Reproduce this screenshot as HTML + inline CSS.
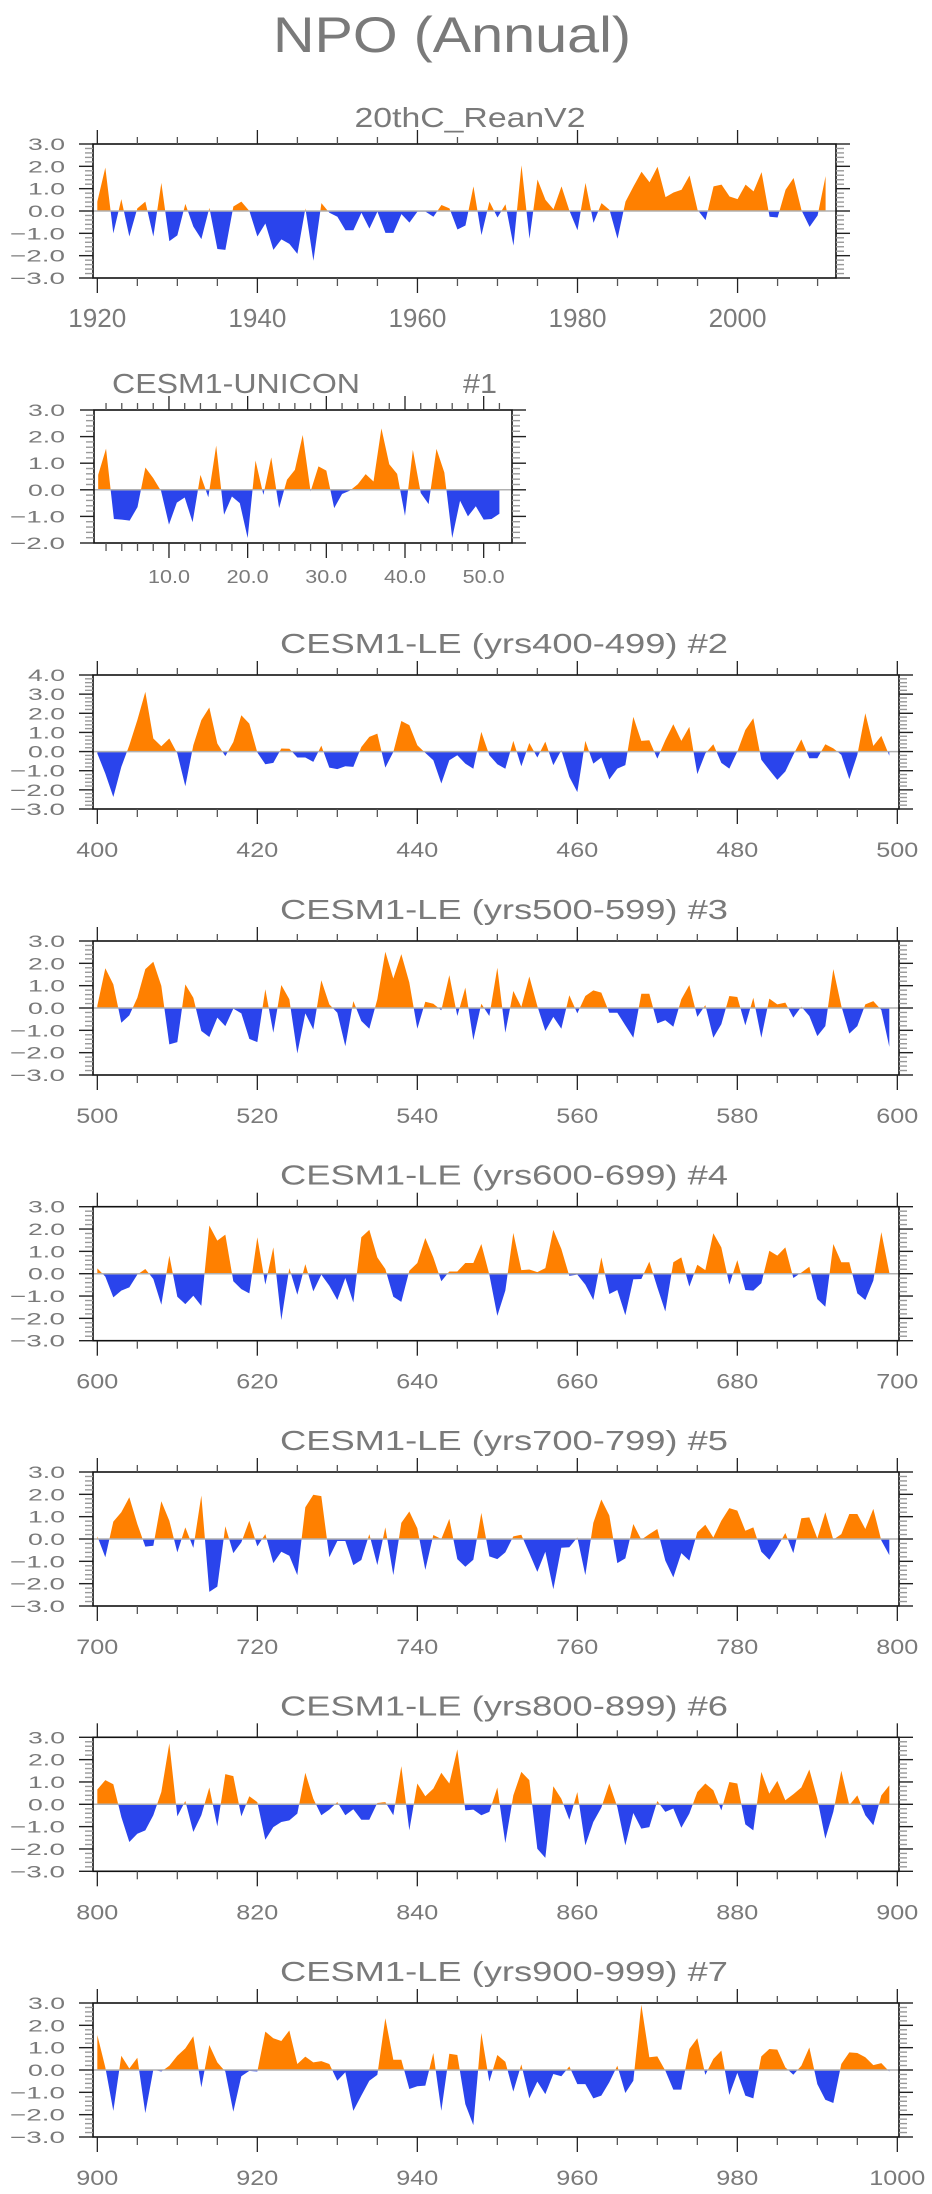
<!DOCTYPE html>
<html><head><meta charset="utf-8"><title>NPO (Annual)</title>
<style>
html,body{margin:0;padding:0;background:#fff;}
svg{display:block;}
text{font-family:"Liberation Sans",sans-serif;fill:#7a7a7a;}
</style></head>
<body>
<svg id="chart" width="932" height="2194" viewBox="0 0 932 2194" xmlns="http://www.w3.org/2000/svg">
<rect x="0" y="0" width="932" height="2194" fill="#fff"/>
<text x="452" y="52" font-size="50" text-anchor="middle" textLength="358" lengthAdjust="spacingAndGlyphs">NPO (Annual)</text>
</svg>
<script>
// ---------- data ----------
const reanStart = 1920;
const reanValues = [0.42,1.94,-1.0,0.53,-1.14,0.12,0.42,-1.14,1.26,-1.35,-1.09,0.32,-0.7,-1.26,0.14,-1.7,-1.74,0.2,0.42,0.0,-1.14,-0.56,-1.74,-1.27,-1.47,-1.92,0.12,-2.23,0.35,-0.08,-0.26,-0.86,-0.86,-0.08,-0.79,-0.03,-0.98,-0.98,-0.14,-0.52,-0.03,-0.03,-0.26,0.27,0.12,-0.83,-0.65,1.1,-1.08,0.42,-0.29,0.3,-1.55,2.05,-1.24,1.41,0.5,0.08,1.1,0.0,-0.86,1.26,-0.53,0.35,0.05,-1.24,0.42,1.1,1.76,1.29,1.98,0.62,0.83,0.95,1.59,0.05,-0.41,1.1,1.18,0.65,0.53,1.18,0.88,1.74,-0.26,-0.29,0.95,1.48,0.02,-0.71,-0.2,1.56];
const uniconStart = 1;
const uniconValues = [0.56,1.55,-1.1,-1.12,-1.16,-0.65,0.84,0.44,-0.05,-1.31,-0.48,-0.29,-1.22,0.56,-0.28,1.66,-0.94,-0.25,-0.5,-1.81,1.1,-0.19,1.22,-0.69,0.38,0.75,2.06,-0.06,0.88,0.72,-0.69,-0.16,-0.03,0.21,0.59,0.31,2.31,0.96,0.6,-0.98,1.5,-0.12,-0.54,1.54,0.65,-1.81,-0.41,-1.0,-0.62,-1.12,-1.1,-0.9];
const le2Values = [-0.1,-1.15,-2.37,-0.8,0.33,1.64,3.12,0.68,0.28,0.68,-0.1,-1.81,0.33,1.64,2.3,0.42,-0.24,0.5,1.9,1.46,-0.05,-0.66,-0.59,0.16,0.15,-0.31,-0.31,-0.54,0.31,-0.84,-0.92,-0.77,-0.8,0.24,0.77,0.94,-0.84,-0.02,1.6,1.38,0.33,-0.07,-0.45,-1.67,-0.45,-0.19,-0.63,-0.9,1.03,-0.19,-0.66,-0.9,0.56,-0.77,0.45,-0.31,0.52,-0.71,0.07,-1.32,-2.12,0.56,-0.63,-0.31,-1.46,-0.89,-0.71,1.81,0.56,0.59,-0.37,0.59,1.43,0.56,1.29,-1.18,-0.1,0.38,-0.59,-0.89,0.0,1.13,1.74,-0.43,-0.96,-1.48,-1.04,-0.17,0.64,-0.35,-0.35,0.38,0.17,-0.17,-1.44,-0.17,2.0,0.3,0.82,-0.22];
const le3Values = [0.1,1.78,1.06,-0.66,-0.33,0.46,1.74,2.07,0.99,-1.63,-1.53,1.06,0.46,-1.03,-1.3,-0.43,-0.81,-0.03,-0.24,-1.38,-1.53,0.84,-1.11,1.03,0.39,-2.04,-0.24,-0.96,1.24,0.16,-0.21,-1.71,0.31,-0.58,-0.93,0.39,2.52,1.32,2.41,1.14,-0.93,0.28,0.19,-0.1,1.47,-0.36,0.91,-1.44,0.19,-0.36,1.8,-1.11,0.76,0.05,1.41,0.09,-1.03,-0.4,-0.93,0.57,-0.24,0.54,0.79,0.69,-0.21,-0.21,-0.78,-1.33,0.64,0.64,-0.69,-0.55,-0.84,0.39,1.03,-0.4,0.13,-1.33,-0.73,0.54,0.49,-0.78,0.46,-1.33,0.42,0.16,0.24,-0.43,0.06,-0.36,-1.26,-0.81,1.74,0.09,-1.15,-0.81,0.16,0.31,-0.09,-1.74];
const le4Values = [0.24,-0.13,-1.06,-0.76,-0.61,-0.04,0.21,-0.24,-1.39,0.81,-1.03,-1.36,-0.99,-1.44,2.16,1.48,1.75,-0.34,-0.69,-0.88,1.63,-0.49,1.18,-2.08,0.25,-0.94,0.43,-0.79,-0.04,-0.54,-1.18,-0.19,-1.29,1.63,1.96,0.73,0.21,-1.03,-1.26,0.13,0.48,1.6,0.73,-0.34,0.1,0.1,0.48,0.48,1.33,-0.04,-1.89,-0.76,1.83,0.16,0.19,0.07,0.25,1.96,1.11,-0.1,-0.04,-0.49,-1.18,0.73,-0.91,-0.73,-1.86,-0.25,-0.24,0.54,-0.61,-1.69,0.51,0.73,-0.58,0.4,0.16,1.81,1.18,-0.49,0.61,-0.73,-0.76,-0.43,1.03,0.81,1.18,-0.19,0.05,0.31,-1.14,-1.48,1.33,0.51,0.51,-0.88,-1.18,-0.31,1.86,0.05];
const le5Values = [0.12,-0.82,0.78,1.2,1.87,0.67,-0.34,-0.3,1.69,0.82,-0.6,0.52,-0.4,1.95,-2.37,-2.13,0.57,-0.63,-0.15,0.82,-0.33,0.22,-1.08,-0.57,-0.75,-1.62,1.42,1.98,1.92,-0.82,-0.09,-0.09,-1.17,-0.94,0.22,-1.17,0.52,-1.62,0.72,1.23,0.48,-1.38,0.18,0.0,0.9,-0.9,-1.24,-0.93,1.17,-0.78,-0.9,-0.6,0.12,0.19,-0.63,-1.47,-0.57,-2.25,-0.39,-0.37,0.07,-1.62,0.72,1.77,1.05,-1.08,-0.87,0.67,-0.03,0.22,0.45,-0.97,-1.72,-0.63,-0.97,0.3,0.64,0.07,0.82,1.38,1.27,0.37,0.52,-0.57,-0.93,-0.37,0.27,-0.63,0.93,0.97,0.03,1.2,-0.03,0.22,1.12,1.12,0.45,1.35,-0.07,-0.72];
const le6Values = [0.66,1.08,0.9,-0.57,-1.69,-1.32,-1.17,-0.49,0.55,2.73,-0.54,0.15,-1.24,-0.49,0.75,-0.99,1.35,1.26,-0.54,0.36,0.1,-1.59,-1.02,-0.79,-0.72,-0.42,1.41,0.25,-0.49,-0.24,0.1,-0.49,-0.22,-0.69,-0.69,0.06,0.1,-0.49,1.71,-1.17,0.93,0.36,0.7,1.41,0.93,2.46,-0.27,-0.24,-0.49,-0.34,0.75,-1.74,0.4,1.45,1.08,-1.99,-2.4,0.81,0.25,-0.69,0.55,-1.84,-0.79,-0.15,0.93,-0.12,-1.84,-0.39,-1.09,-1.02,0.15,-0.34,-0.19,-1.05,-0.42,0.55,0.93,0.63,-0.27,1.0,0.93,-0.9,-1.17,1.45,0.48,1.05,0.18,0.45,0.75,1.56,0.25,-1.54,-0.34,1.5,-0.04,0.4,-0.49,-0.94,0.4,0.85];
const le7Values = [1.57,0.12,-1.83,0.64,0.07,0.55,-1.93,0.01,-0.07,0.19,0.64,0.97,1.51,-0.78,1.12,0.34,-0.07,-1.87,-0.28,-0.04,-0.07,1.72,1.42,1.3,1.77,0.27,0.6,0.34,0.4,0.27,-0.48,-0.1,-1.83,-1.15,-0.48,-0.22,2.32,0.46,0.46,-0.85,-0.73,-0.7,0.76,-1.83,0.73,0.67,-1.53,-2.47,1.66,-0.52,0.67,0.37,-0.97,0.25,-1.27,-0.52,-1.08,-0.18,-0.28,0.16,-0.63,-0.63,-1.27,-1.15,-0.55,0.19,-1.03,-0.48,2.92,0.57,0.61,-0.03,-0.88,-0.88,0.94,1.42,-0.22,0.49,0.87,-1.12,-0.13,-1.15,-1.27,0.61,0.94,0.91,0.12,-0.21,0.19,1.01,-0.63,-1.33,-1.48,0.27,0.79,0.76,0.57,0.22,0.31,-0.07];
const leStarts = [400,500,600,700,800,900];
const panelTitles = ['20thC_ReanV2','CESM1-UNICON','CESM1-LE (yrs400-499) #2','CESM1-LE (yrs500-599) #3','CESM1-LE (yrs600-699) #4','CESM1-LE (yrs700-799) #5','CESM1-LE (yrs800-899) #6','CESM1-LE (yrs900-999) #7'];

// ---------- layout ----------
const NS = 'http://www.w3.org/2000/svg';
const svg = document.getElementById('chart');
function mk(tag, attrs, parent){
  const e = document.createElementNS(NS, tag);
  for (const k in attrs) e.setAttribute(k, attrs[k]);
  (parent || svg).appendChild(e);
  return e;
}
const leValues = [le2Values,le3Values,le4Values,le5Values,le6Values,le7Values];
const leTops = [675,941,1206.7,1472,1737.3,2003];
const panels = [];
panels.push({top:144,bottom:278,x0:93,x1:836,d0:1919.46,d1:2012.3,y0:-3,y1:3,start:reanStart,step:1,values:reanValues,
  major:[1920,1940,1960,1980,2000],minor:5,minorFrom:1920,minorTo:2010,labelFmt:v=>String(v),xlabFont:26,xlabChar:14.5,xlabBase:327});
panels.push({top:410,bottom:543,x0:94,x1:512,d0:0.47,d1:53.6,y0:-2,y1:3,start:uniconStart,step:1,values:uniconValues,
  major:[10,20,30,40,50],minor:2,minorFrom:2,minorTo:52,labelFmt:v=>v.toFixed(1),xlabFont:18,xlabChar:12,xlabBase:583});
leStarts.forEach((s,i)=>{
  const top = leTops[i];
  const y1 = (i===0)?4:3;
  panels.push({top:top,bottom:top+134,x0:93,x1:899,d0:s-0.54,d1:s+100.21,y0:-3,y1:y1,start:s,step:1,values:leValues[i],
    major:[s,s+20,s+40,s+60,s+80,s+100],minor:5,minorFrom:s,minorTo:s+100,labelFmt:v=>String(v),xlabFont:21,xlabChar:14,xlabBase:top+134+48});
});

panels.forEach((p,pi)=>{
  const g = mk('g',{});
  
  
  const xs = v => p.x0 + (v-p.d0)/(p.d1-p.d0)*(p.x1-p.x0);
  const ys = v => p.bottom - (v-p.y0)/(p.y1-p.y0)*(p.bottom-p.top);
  const zy = ys(0);

  if (pi===0){
    const t = mk('text',{x:470,y:127,'font-size':28,'text-anchor':'middle',textLength:231,lengthAdjust:'spacingAndGlyphs'},g);
    t.textContent = panelTitles[pi];
    
    
  } else if (pi===1){
    const t = mk('text',{x:112,y:393,'font-size':28,textLength:248,lengthAdjust:'spacingAndGlyphs'},g);
    t.textContent = 'CESM1-UNICON';
    
    
    const t2 = mk('text',{x:463,y:393,'font-size':28,textLength:34,lengthAdjust:'spacingAndGlyphs'},g);
    t2.textContent = '#1';
    
    
  } else {
    const t = mk('text',{x:504,y:p.top-22,'font-size':28,'text-anchor':'middle',textLength:448,lengthAdjust:'spacingAndGlyphs'},g);
    t.textContent = panelTitles[pi];
    
    
  }

  const defs = mk('defs',{},g);
  const cA = mk('clipPath',{id:'ca'+pi},defs);
  mk('rect',{x:p.x0,y:p.top,width:p.x1-p.x0,height:zy-p.top},cA);
  const cB = mk('clipPath',{id:'cb'+pi},defs);
  mk('rect',{x:p.x0,y:zy,width:p.x1-p.x0,height:p.bottom-zy},cB);

  let d = 'M'+xs(p.start).toFixed(2)+','+zy.toFixed(2);
  p.values.forEach((v,i)=>{ d += ' L'+xs(p.start+i*p.step).toFixed(2)+','+ys(v).toFixed(2); });
  d += ' L'+xs(p.start+(p.values.length-1)*p.step).toFixed(2)+','+zy.toFixed(2)+' Z';
  const pos = mk('path',{d:d,fill:'#ff8000','clip-path':'url(#ca'+pi+')'},g);
  
  
  const neg = mk('path',{d:d,fill:'#2a44ec','clip-path':'url(#cb'+pi+')'},g);
  
  

  const zl = mk('line',{x1:p.x0,x2:p.x1,y1:zy,y2:zy,stroke:'#b0b0b0','stroke-width':1.5},g);
  
  

  const fr = mk('rect',{x:p.x0,y:p.top,width:p.x1-p.x0,height:p.bottom-p.top,fill:'none',stroke:'#111','stroke-width':1.6},g);
  
  

  for (let v=p.minorFrom; v<=p.minorTo+1e-9; v+=p.minor){
    const isMaj = p.major.some(m=>Math.abs(m-v)<1e-6);
    const L = isMaj?14:7;
    const x = xs(v);
    mk('line',{x1:x,x2:x,y1:p.top,y2:p.top-L,stroke:isMaj?'#222':'#555','stroke-width':1.3},g);
    mk('line',{x1:x,x2:x,y1:p.bottom,y2:p.bottom+L+1,stroke:isMaj?'#222':'#555','stroke-width':1.3},g);
  }
  p.major.forEach(v=>{
    const s = p.labelFmt(v);
    const len = s.replace('.','').length*p.xlabChar + (s.indexOf('.')>=0?6:0);
    const t = mk('text',{x:xs(v),y:p.xlabBase,'font-size':p.xlabFont,'text-anchor':'middle',textLength:len,lengthAdjust:'spacingAndGlyphs'},g);
    t.textContent = s;
    
    
  });

  const nMinor = Math.round((p.y1-p.y0)/0.2);
  for (let k=0;k<=nMinor;k++){
    const v = p.y0 + k*0.2;
    const isMaj = (k%5)===0;
    const y = ys(v);
    const L = isMaj?14:8;
    const col = isMaj?'#222':'#999';
    mk('line',{x1:p.x0,x2:p.x0-L,y1:y,y2:y,stroke:col,'stroke-width':1.4},g);
    mk('line',{x1:p.x1,x2:p.x1+L,y1:y,y2:y,stroke:col,'stroke-width':1.4},g);
  }
  for (let v=p.y0; v<=p.y1; v++){
    const lab = (v<0?'\u2212':'')+Math.abs(v).toFixed(1);
    const len = v<0?55:37;
    const t = mk('text',{x:65,y:ys(v)+6,'font-size':17,'text-anchor':'end',textLength:len,lengthAdjust:'spacingAndGlyphs'},g);
    t.textContent = lab;
    
    
  }
});
</script>
</body></html>
